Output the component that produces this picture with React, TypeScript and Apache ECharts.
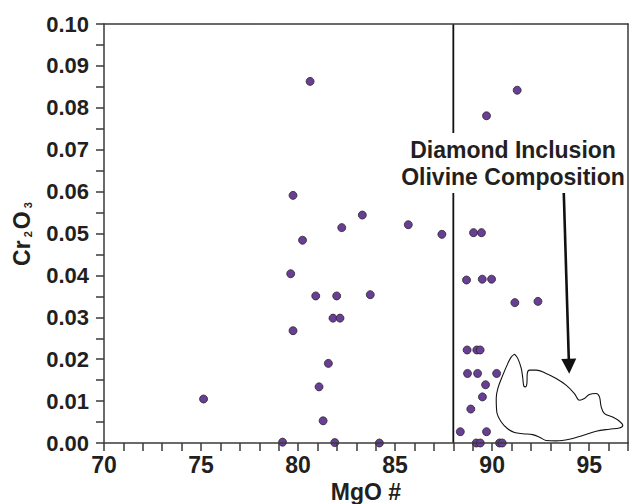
import React, { useEffect, useRef } from "react";
import * as echarts from "echarts";

// MgO # (x) vs Cr2O3 (y) olivine analyses
const mgo: number[] = [
  75.13, 80.62, 79.74, 80.23, 79.62, 80.91, 79.74, 81.08, 79.2, 81.29,
  81.99, 83.72, 81.8, 82.16, 81.56, 81.89, 84.19, 88.68, 89.49, 89.97,
  91.17, 92.36, 88.71, 89.21, 89.38, 88.73, 89.25, 90.23, 89.66, 89.5,
  88.9, 88.36, 89.71, 89.18, 89.39, 90.38, 90.52, 91.29, 89.71, 82.25,
  83.31, 85.68, 87.41, 89.04, 89.45,
];
const cr2o3: number[] = [
  0.0105, 0.0863, 0.0591, 0.0484, 0.0404, 0.0351, 0.0268, 0.0134, 0.0002, 0.0053,
  0.0351, 0.0354, 0.0298, 0.0298, 0.019, 0.0001, 0.0, 0.0389, 0.0391, 0.0391,
  0.0335, 0.0338, 0.0222, 0.0222, 0.0222, 0.0166, 0.0166, 0.0166, 0.0139, 0.011,
  0.0081, 0.0027, 0.0027, 0.0, 0.0, 0.0, 0.0, 0.0842, 0.0781, 0.0514,
  0.0544, 0.0521, 0.0498, 0.0502, 0.0502,
];

// Diamond inclusion olivine composition field (outline)
const fieldX: number[] = [
  91.15, 91.32, 91.5, 91.58, 91.63, 91.72, 91.79, 91.81, 91.92, 92.27,
  92.78, 93.3, 93.81, 94.24, 94.5, 94.75, 95.01, 95.36, 95.53, 95.62,
  95.79, 96.21, 96.56, 96.73, 96.56, 96.04, 95.36, 94.67, 93.98, 93.3,
  92.78, 92.44, 92.09, 91.58, 91.15, 90.8, 90.47, 90.24, 90.21, 90.29,
  90.55, 90.81, 90.98, 91.15,
];
const fieldY: number[] = [
  0.0212, 0.0202, 0.0178, 0.0154, 0.0136, 0.0134, 0.0142, 0.0166, 0.0174, 0.0174,
  0.0166, 0.0154, 0.0138, 0.0118, 0.0102, 0.0106, 0.0116, 0.0118, 0.011, 0.0086,
  0.007, 0.0062, 0.0052, 0.0042, 0.0036, 0.0033, 0.0028, 0.0018, 0.0009, 0.0005,
  0.0006, 0.0014, 0.002, 0.0022, 0.0025, 0.0034, 0.005, 0.0074, 0.0106, 0.013,
  0.0162, 0.019, 0.0205, 0.0212,
];

const boundaryMgO = 88;
const arrowFrom: [number, number] = [93.69, 0.0599];
const arrowTo: [number, number] = [93.96, 0.0183];

const xMin = 70;
const xMax = 97;
const yMin = 0;
const yMax = 0.1;

const annotationLines: string[] = ["Diamond Inclusion", "Olivine Composition"];

const FONT = "'Liberation Sans', Arial, Helvetica, sans-serif";
const INK = "#231f20";
const AXIS = "#3a3a3a";

export default function App() {
  const ref = useRef<HTMLDivElement>(null);

  useEffect(() => {
    if (!ref.current) return;
    const chart = echarts.init(ref.current, undefined, { renderer: "svg" });

    const points = mgo.map((x, i) => [x, cr2o3[i]]);
    const field = fieldX.map((x, i) => [x, fieldY[i]]);

    const option: any = {
      animation: false,
      backgroundColor: "#ffffff",
      grid: {
        left: 104,
        top: 24,
        right: 4,
        bottom: 61,
        containLabel: false,
        outerBoundsMode: "none",
      },
      xAxis: [
        {
          type: "value",
          min: xMin,
          max: xMax,
          interval: 1,
          name: "MgO #",
          nameLocation: "middle",
          nameGap: 37,
          nameTextStyle: { fontFamily: FONT, fontWeight: "bold", fontSize: 23, color: INK },
          axisLine: { show: true, lineStyle: { color: AXIS, width: 1.5 } },
          axisTick: { show: true, length: 8, lineStyle: { color: AXIS, width: 1.5 } },
          axisLabel: {
            margin: 10,
            fontFamily: FONT,
            fontWeight: "bold",
            fontSize: 23,
            color: INK,
            formatter: (v: number) => (v % 5 === 0 && v < 96 ? String(v) : ""),
          },
          splitLine: { show: false },
          z: 10,
        },
        {
          type: "value",
          position: "top",
          min: xMin,
          max: xMax,
          axisLine: { show: true, onZero: false, lineStyle: { color: AXIS, width: 1.5 } },
          axisTick: { show: false },
          axisLabel: { show: false },
          splitLine: { show: false },
          z: 10,
        },
      ],
      yAxis: [
        {
          type: "value",
          min: yMin,
          max: yMax,
          interval: 0.01,
          axisLine: { show: true, lineStyle: { color: AXIS, width: 1.5 } },
          axisTick: { show: true, length: 8, lineStyle: { color: AXIS, width: 1.5 } },
          minorTick: { show: true, splitNumber: 2, length: 8, lineStyle: { color: AXIS, width: 1.5 } },
          axisLabel: {
            margin: 15,
            fontFamily: FONT,
            fontWeight: "bold",
            fontSize: 22,
            color: INK,
            formatter: (v: number) => v.toFixed(2),
          },
          splitLine: { show: false },
          z: 10,
        },
        {
          type: "value",
          position: "right",
          min: yMin,
          max: yMax,
          axisLine: { show: true, onZero: false, lineStyle: { color: AXIS, width: 1.5 } },
          axisTick: { show: false },
          axisLabel: { show: false },
          splitLine: { show: false },
          z: 10,
        },
      ],
      series: [
        {
          type: "line",
          data: [
            [boundaryMgO, yMin],
            [boundaryMgO, yMax],
          ],
          symbol: "none",
          lineStyle: { color: "#111111", width: 1.8 },
          z: 1,
          silent: true,
        },
        {
          type: "line",
          data: field,
          smooth: 0.35,
          symbol: "none",
          lineStyle: { color: "#111111", width: 1.1 },
          z: 2,
          silent: true,
        },
        {
          type: "scatter",
          data: points,
          symbol: "circle",
          symbolSize: 8,
          itemStyle: { color: "#6a3d96", borderColor: "#2a2a2a", borderWidth: 0.8, opacity: 1 },
          z: 3,
        },
        {
          type: "lines",
          coordinateSystem: "cartesian2d",
          data: [{ coords: [arrowFrom, arrowTo] }],
          symbol: ["none", "triangle"],
          symbolSize: 15,
          lineStyle: { color: "#111111", width: 2.6, opacity: 1 },
          itemStyle: { color: "#111111" },
          z: 4,
          silent: true,
        },
      ],
      graphic: [
        {
          type: "text",
          x: 513,
          y: 133,
          z: 6,
          style: {
            text: annotationLines.join("\n"),
            fontFamily: FONT,
            fontWeight: "bold",
            fontSize: 23,
            lineHeight: 27,
            fill: INK,
            align: "center",
            verticalAlign: "top",
            backgroundColor: "#ffffff",
            padding: [3, 0, 3, 0],
          },
        },
        {
          type: "text",
          x: 22,
          y: 233,
          z: 6,
          rotation: Math.PI / 2,
          style: {
            text: "{a|Cr}{s| 2}{a|O}{s| 3}",
            align: "center",
            verticalAlign: "middle",
            rich: {
              a: { fontFamily: FONT, fontWeight: "bold", fontSize: 23, fill: INK },
              s: { fontFamily: FONT, fontWeight: "bold", fontSize: 11, fill: INK, verticalAlign: "bottom", padding: [0, 2, 0, 0] },
            },
          },
        },
      ],
    };

    chart.setOption(option);
    return () => chart.dispose();
  }, []);

  return (
    <div
      ref={ref}
      style={{ position: "fixed", left: 0, top: 0, width: 632, height: 504 }}
    />
  );
}
